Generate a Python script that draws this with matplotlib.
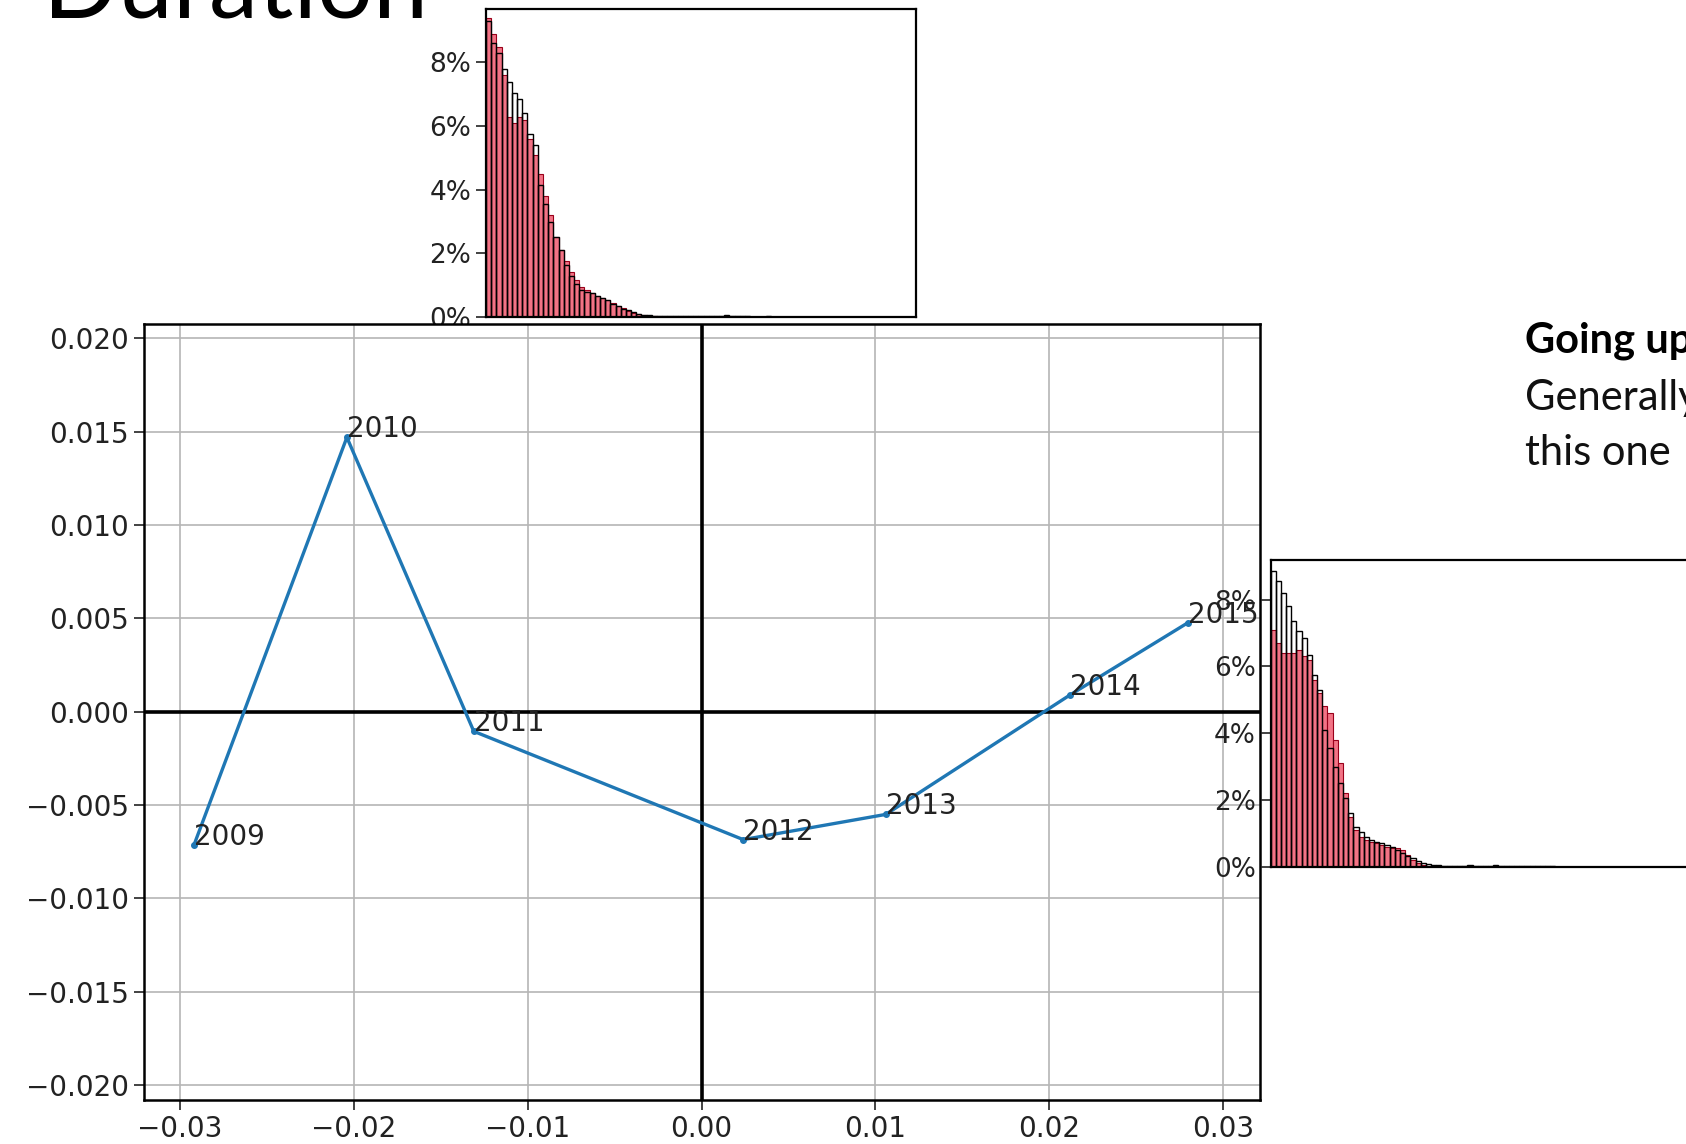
import matplotlib
matplotlib.use("Agg")
import numpy as np
import matplotlib.pyplot as plt
from matplotlib.ticker import PercentFormatter

# yearly positions on the main chart
years = ["2009", "2010", "2011", "2012", "2013", "2014", "2015"]
x_vals = [-0.0292, -0.0204, -0.0131, 0.0024, 0.0106, 0.0212, 0.0280]
y_vals = [-0.00715, 0.0147, -0.00105, -0.00685, -0.0055, 0.0009, 0.00478]

# top inset histogram (percent per bin)
top_all = [9.3, 8.6, 8.3, 7.8, 7.4, 7.05, 6.85, 6.4, 5.75, 5.4, 4.15, 3.55, 3.0, 2.5,
           2.1, 1.65, 1.3, 1.05, 0.86, 0.8, 0.74, 0.65, 0.6, 0.53, 0.42, 0.34, 0.26,
           0.21, 0.16, 0.10, 0.07, 0.05, 0.04, 0.04, 0.03, 0.03, 0.03, 0.02, 0.02,
           0.02, 0.03, 0.04, 0.03, 0.02, 0.02, 0.03, 0.05, 0.03, 0.02, 0.02, 0.02,
           0.01, 0.01, 0.01, 0.02, 0.01, 0.01, 0.01, 0.01, 0.01]
top_year = [9.4, 8.9, 8.5, 7.6, 6.3, 6.1, 6.3, 6.2, 5.6, 5.1, 4.5, 3.8, 3.2, 2.5,
            2.1, 1.75, 1.4, 1.15, 0.95, 0.85, 0.75, 0.65, 0.6, 0.55, 0.45, 0.36,
            0.28, 0.2, 0.13, 0.08, 0.05, 0.03, 0.02, 0.01]

# right inset histogram (percent per bin)
right_all = [8.85, 8.55, 8.2, 7.8, 7.35, 7.05, 6.85, 6.35, 5.75, 5.3, 4.1, 3.55, 3.0,
             2.5, 2.05, 1.6, 1.2, 1.05, 0.9, 0.8, 0.75, 0.7, 0.65, 0.6, 0.5, 0.4,
             0.32, 0.25, 0.18, 0.12, 0.07, 0.05, 0.04, 0.03, 0.03, 0.02, 0.02, 0.03,
             0.04, 0.03, 0.02, 0.02, 0.03, 0.04, 0.03, 0.02, 0.02, 0.02, 0.01, 0.02,
             0.03, 0.02, 0.01, 0.01, 0.01]
right_year = [7.1, 6.7, 6.4, 6.4, 6.4, 6.5, 6.3, 6.2, 5.6, 5.2, 4.8, 4.6, 3.8, 3.1,
              2.2, 1.5, 1.1, 0.9, 0.8, 0.75, 0.7, 0.65, 0.6, 0.55, 0.55, 0.5, 0.35,
              0.2, 0.1, 0.05, 0.02]

W, H = 1686, 1144
fig = plt.figure(figsize=(W / 100, H / 100), dpi=100)


def px_axes(left, top, right, bottom, z):
    return fig.add_axes([left / W, 1 - bottom / H, (right - left) / W, (bottom - top) / H], zorder=z)


def draw_hist(ax, all_vals, year_vals, ytop):
    ax.bar(np.arange(len(year_vals)), year_vals, width=1, align="edge",
           color=(0.93, 0.22, 0.32, 0.7), edgecolor=(0.6, 0.0, 0.1), linewidth=0.8)
    ax.bar(np.arange(len(all_vals)), all_vals, width=1, align="edge",
           fill=False, edgecolor="black", linewidth=1.0)
    ax.set_xlim(0, 83)
    ax.set_ylim(0, ytop)
    ax.set_yticks([0, 2, 4, 6, 8])
    ax.yaxis.set_major_formatter(PercentFormatter(xmax=100, decimals=0))
    ax.set_xticks([])
    ax.tick_params(axis="y", labelsize=19, length=7, width=1.2, colors="#222222")
    for s in ax.spines.values():
        s.set_linewidth(1.6)


# top inset (behind main axes)
ax_top = px_axes(486, 9, 916, 317, 0)
draw_hist(ax_top, top_all, top_year, 9.68)

# main chart
ax = px_axes(143.5, 323.5, 1259.5, 1100, 1)
ax.set_facecolor("white")
ax.grid(True, color="#b5b5b5", linewidth=1.2)
ax.set_axisbelow(True)
ax.axhline(0, color="black", linewidth=2.6)
ax.axvline(0, color="black", linewidth=2.6)
ax.plot(x_vals, y_vals, "-o", color="#1f77b4", linewidth=2.4, markersize=4)
for yr, xv, yv in zip(years, x_vals, y_vals):
    ax.annotate(yr, (xv, yv), fontsize=20, color="#222222")
ax.set_xlim(-0.0321, 0.0321)
ax.set_ylim(-0.0208, 0.0208)
ax.set_xticks([-0.03, -0.02, -0.01, 0.0, 0.01, 0.02, 0.03])
ax.set_yticks([-0.02, -0.015, -0.01, -0.005, 0.0, 0.005, 0.01, 0.015, 0.02])
ax.tick_params(labelsize=20, length=7, width=1.2, colors="#222222")
for s in ax.spines.values():
    s.set_linewidth(1.8)

# right inset (in front, runs off the slide edge)
ax_right = px_axes(1270.5, 559.5, 1700.5, 866.7, 2)
draw_hist(ax_right, right_all, right_year, 9.2)

# slide text
fig.text(43 / W, 1 - 18 / H, "Duration", fontsize=71, family="Lato",
         va="baseline", ha="left", color="black")
fig.text(1525 / W, 1 - 353 / H, "Going up", fontsize=30, family="Lato", weight="bold",
         va="baseline", ha="left", color="black")
fig.text(1525 / W, 1 - 410 / H, "Generally", fontsize=30, family="Lato",
         va="baseline", ha="left", color="#111111")
fig.text(1525 / W, 1 - 465 / H, "this one", fontsize=30, family="Lato",
         va="baseline", ha="left", color="#111111")

fig.savefig("out.png", dpi=100)
